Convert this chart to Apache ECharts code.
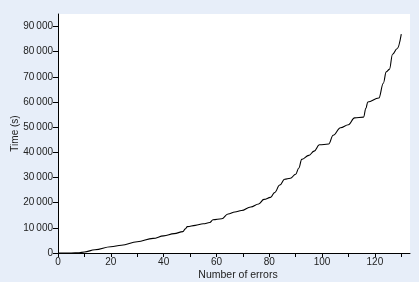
<!DOCTYPE html>
<html>
<head>
<meta charset="utf-8">
<script src="https://cdn.jsdelivr.net/npm/echarts@6/dist/echarts.min.js"></script>
<style>
html,body{margin:0;padding:0;background:#e7eef9;}
#c{width:419px;height:282px;}
</style>
</head>
<body>
<div id="c"></div>
<script>
const errors = [0,5,8,10,14,20,24,30,36,40,44,47.3,48.2,49,52,55,57.5,58.7,62,64.4,67,69.5,73,76,78,80.5,82,84,85.8,88,90,91.2,92.3,95,97,99,102.5,104.2,107,110,112.3,115.7,116.6,117.3,121.5,123.2,124.3,125.5,126.7,128.4,130];
const times = [0,0,100,400,1300,2500,3100,4500,5800,6800,7700,8500,9600,10500,11000,11600,12100,13200,13600,15500,16300,16900,18300,19500,21300,22100,24000,27000,29300,29700,31300,33800,37200,38800,40500,43000,43300,46800,49800,51000,53700,54000,57500,60000,61600,67500,72000,73000,79000,81200,87000];
const xTicks = [0,10,20,30,40,50,60,70,80,90,100,110,120,130];
const xLabels = [0,20,40,60,80,100,120];
const yTicks = [0,10000,20000,30000,40000,50000,60000,70000,80000,90000];

const chart = echarts.init(document.getElementById('c'), null, {renderer:'canvas'});
const font = 'Liberation Sans, Arial, sans-serif';
chart.setOption({
  backgroundColor: '#e7eef9',
  animation: false,
  grid: {left:58, right:9, top:14, bottom:29, show:true, backgroundColor:'#ffffff', borderWidth:0,
         containLabel:false, outerBoundsMode:'none'},
  xAxis: {
    type:'value', min:0, max:133.3,
    name:'Number of errors', nameLocation:'middle', nameGap:17, nameMoveOverlap:false,
    nameTextStyle:{fontFamily:font, fontSize:10.5, color:'#222', padding:[0,0,0,8]},
    axisLine:{show:true, onZero:false, lineStyle:{color:'#000', width:1}},
    axisTick:{show:true, length:4, customValues:xTicks, lineStyle:{color:'#000'}},
    axisLabel:{customValues:xLabels, margin:4, fontFamily:font, fontSize:10, color:'#222'},
    splitLine:{show:false}
  },
  yAxis: {
    type:'value', min:0, max:95000,
    name:'Time (s)', nameLocation:'middle', nameGap:38, nameMoveOverlap:false,
    nameTextStyle:{fontFamily:font, fontSize:10, color:'#222'},
    axisLine:{show:true, onZero:false, lineStyle:{color:'#000', width:1}},
    axisTick:{show:true, length:5, customValues:yTicks, lineStyle:{color:'#000'}},
    axisLabel:{customValues:yTicks, margin:5, fontFamily:font, fontSize:10, color:'#222',
      formatter: v => String(v).replace(/\B(?=(\d{3})+(?!\d))/g, '\u2009')},
    splitLine:{show:false}
  },
  series: [{
    type:'line',
    data: errors.map((e,i)=>[e,times[i]]),
    showSymbol:false,
    smooth:0.4,
    smoothMonotone:'x',
    lineStyle:{color:'#000', width:1.1}
  }]
});
</script>
</body>
</html>
